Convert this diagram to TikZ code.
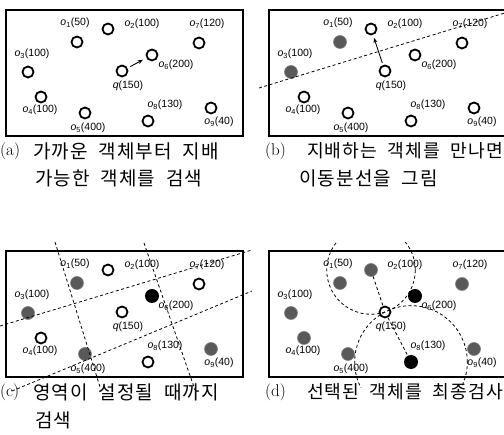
\documentclass[tikz,border=0pt]{standalone}
\usepackage{fontspec}
\usetikzlibrary{calc,arrows.meta}
\newfontfamily\kr[LetterSpace=6,WordSpace=2]{Noto Sans CJK KR}
\newfontfamily\lab{Liberation Sans}
\newcommand\objects[1]{%
  \node[s1] (#1o1) at (77,42) {};
  \node[lbl] (#1l1) at (75,23) {\textit{o}\textsubscript{1}(50)};
  \node[s2] (#1o2) at (108,29) {};
  \node[lbl] (#1l2) at (142,24) {\textit{o}\textsubscript{2}(100)};
  \node[s7] (#1o7) at (199,43) {};
  \node[lbl] (#1l7) at (207,24) {\textit{o}\textsubscript{7}(120)};
  \node[s3] (#1o3) at (28,72) {};
  \node[lbl] (#1l3) at (32,54) {\textit{o}\textsubscript{3}(100)};
  \node[s6] (#1o6) at (152,55) {};
  \node[lbl] (#1l6) at (176,65) {\textit{o}\textsubscript{6}(200)};
  \node[sq] (#1q) at (122,71) {};
  \node[lbl] (#1lq) at (128,86) {\textit{q}(150)};
  \node[s4] (#1o4) at (41,97) {};
  \node[lbl] (#1l4) at (40,110) {\textit{o}\textsubscript{4}(100)};
  \node[s5] (#1o5) at (85,113) {};
  \node[lbl] (#1l5) at (88,128) {\textit{o}\textsubscript{5}(400)};
  \node[s8] (#1o8) at (148,121) {};
  \node[lbl] (#1l8) at (165,105) {\textit{o}\textsubscript{8}(130)};
  \node[s9] (#1o9) at (211,108) {};
  \node[lbl] (#1l9) at (219,122) {\textit{o}\textsubscript{9}(40)};
}
\begin{document}
\begin{tikzpicture}[x=1pt,y=-1pt,
  opencirc/.style={circle,draw,line width=1.8pt,minimum size=11pt,inner sep=0pt},
  graycirc/.style={circle,fill=black!65,draw=black!50,line width=0.6pt,minimum size=13pt,inner sep=0pt},
  blackcirc/.style={circle,fill=black,minimum size=14pt,inner sep=0pt},
  lbl/.style={font=\lab\fontsize{10.5}{11}\selectfont,inner sep=0pt},
  frame/.style={line width=1.8pt},
  dline/.style={dash pattern=on 3pt off 2.5pt,line width=0.8pt},
  arr/.style={-{Stealth[length=5pt,width=4pt]},line width=0.9pt},
  latincap/.style={font=\fontsize{17}{20}\selectfont,inner sep=0pt,anchor=west},
  krcap/.style={font=\kr\fontsize{19}{21}\selectfont,inner sep=0pt,anchor=west},
  krcapr/.style={font=\kr\fontsize{18.2}{21}\selectfont,inner sep=0pt,anchor=east},
  s1/.style=opencirc,s2/.style=opencirc,s3/.style=opencirc,s4/.style=opencirc,
  s5/.style=opencirc,s6/.style=opencirc,s7/.style=opencirc,s8/.style=opencirc,
  s9/.style=opencirc,sq/.style=opencirc]
\useasboundingbox (0,0) rectangle (504,435);
\fill[white] (0,0) rectangle (504,435);
% ---------- (a)
\begin{scope}
  \draw[frame] (6,10) rectangle (243,136);
  \objects{a}
  \draw[arr,shorten <=3pt,shorten >=4pt] (aq) -- (ao6);
\end{scope}
\node[latincap] (capa) at (0,151) {(a)};
\node[krcap] (capa1) at (33,151) {가까운 객체부터 지배};
\node[krcap] (capa2) at (35,178) {가능한 객체를 검색};
% ---------- (b)
\begin{scope}[shift={(263,0)},s1/.style=graycirc,s3/.style=graycirc]
  \draw[frame] (6,10) rectangle (243,136);
  \objects{b}
  \draw[arr,shorten <=2pt,shorten >=3pt] (bq) -- (bo2);
  \draw[dline] (-4,88) -- (245,12);
\end{scope}
\node[latincap] (capb) at (265,151) {(b)};
\node[krcapr] (capb1) at (503,151) {지배하는 객체를 만나면};
\node[krcap] (capb2) at (299,178) {이동분선을 그림};
% ---------- (c)
\begin{scope}[shift={(0,241)},s1/.style=graycirc,s3/.style=graycirc,
  s5/.style=graycirc,s9/.style=graycirc,s6/.style=blackcirc]
  \draw[frame] (6,10) rectangle (243,136);
  \objects{c}
  \draw[dline] (0,85) -- (252,9);
  \draw[dline] (12,150) -- (252,50);
  \draw[dline] (55,1) -- (100,146);
  \draw[dline] (144,2) -- (195,149);
\end{scope}
\node[latincap] (capc) at (0,392) {(c)};
\node[krcap] (capc1) at (33,392) {영역이 설정될 때까지};
\node[krcap] (capc2) at (35,420) {검색};
% ---------- (d)
\begin{scope}[shift={(263,241)},s1/.style=graycirc,s2/.style=graycirc,
  s3/.style=graycirc,s4/.style=graycirc,s5/.style=graycirc,s7/.style=graycirc,
  s9/.style=graycirc,s6/.style=blackcirc,s8/.style=blackcirc]
  \draw[frame] (6,10) rectangle (243,136);
  \objects{d}
  \begin{scope}
    \clip (0,2) rectangle (260,147);
    \draw[dline] let \p1=($(dq)-(do2)$),\n1={veclen(\x1,\y1)} in (do2) circle[radius=\n1];
    \draw[dline] let \p1=($(dq)-(do8)$),\n1={veclen(\x1,\y1)} in (do8) circle[radius=\n1];
  \end{scope}
  \draw[dline] (do2) -- (dq);
  \draw[dline] (dq) -- (do8);
\end{scope}
\node[latincap] (capd) at (265,392) {(d)};
\node[krcapr] (capd1) at (503,392) {선택된 객체를 최종검사};
\end{tikzpicture}
\end{document}
